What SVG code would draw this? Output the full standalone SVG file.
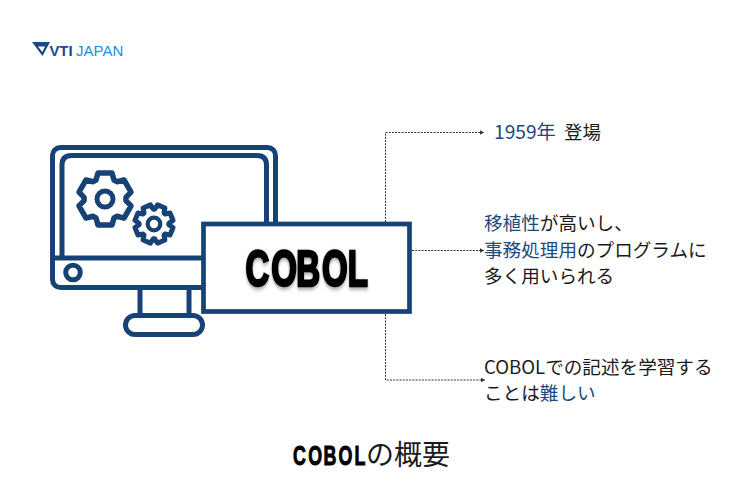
<svg xmlns="http://www.w3.org/2000/svg" width="750" height="500" viewBox="0 0 750 500">
<style>
.ln{fill:none;stroke:#164276;stroke-width:5;stroke-linejoin:round}
.t{font-family:"Noto Sans CJK JP","Noto Sans",sans-serif;font-size:18.600px;fill:#1a1a1a}
.b{fill:#1c4a80}
.c{fill:none;stroke:#333;stroke-width:1;stroke-dasharray:2 1.2}
.h{font-family:"Liberation Sans",sans-serif;font-weight:700;fill:#000;stroke:#000}
</style>
<defs>
<marker id="a" markerUnits="userSpaceOnUse" markerWidth="5" markerHeight="6" refX="4.5" refY="3" orient="auto"><path d="M0 0.5L4.5 3L0 5.5z" fill="#333"/></marker>
<path id="gear" d="M-9-19L-7-26H7L9-19L11.95-17.29L19.02-19.06L26.02-6.94L20.95-1.71V1.71L26.02 6.94L19.02 19.06L11.95 17.29L9 19L7 26H-7L-9 19L-11.95 17.29L-19.02 19.06L-26.02 6.94L-20.95 1.71V-1.71L-26.02-6.94L-19.02-19.06L-11.95-17.29Z"/>
<path id="gear2" d="M-5-14L-4-19H4L5-14L6.36-13.44L10.61-16.26L16.26-10.61L13.44-6.36L14-5L19-4V4L14 5L13.44 6.36L16.26 10.61L10.61 16.26L6.36 13.44L5 14L4 19H-4L-5 14L-6.36 13.44L-10.61 16.26L-16.26 10.61L-13.44 6.36L-14 5L-19 4V-4L-14-5L-13.44-6.36L-16.26-10.61L-10.61-16.26L-6.36-13.44Z"/>
<filter id="s" x="-10%" y="-20%" width="120%" height="150%"><feDropShadow dx="0" dy="2" stdDeviation="2" flood-color="#000" flood-opacity=".4"/></filter>
</defs>
<rect width="750" height="500" fill="#fff"/>
<g id="logo">
<path d="M32 42H50L42.500 56ZM38 46.500L42.300 52L45 46.500Z" fill="#164a8c" fill-rule="evenodd"/>
<text x="49.500" y="56" font-family="Liberation Sans,sans-serif" font-size="14.800" font-weight="700" fill="#164a8c">VTI</text>
<text x="76" y="56" font-family="Liberation Sans,sans-serif" font-size="15" fill="#1a8fe3">JAPAN</text>
</g>
<g id="monitor">
<rect class="ln" x="52.500" y="147.500" width="223" height="140" rx="8"/>
<path class="ln" d="M62 258V165Q62 155.500 71.500 155.500H257Q266.500 155.500 266.500 165V258"/>
<path class="ln" d="M52.500 258H266"/>
<circle class="ln" cx="73" cy="272.500" r="7.300"/>
<path class="ln" d="M140 288V315M189 288V315"/>
<rect class="ln" x="125.500" y="315.500" width="77" height="19" rx="9.500" fill="#fff"/>
<use href="#gear" class="ln" style="stroke-width:5.500" transform="translate(105 199)"/>
<circle class="ln" cx="105" cy="199" r="8"/>
<use href="#gear2" class="ln" style="stroke-width:5" transform="translate(154 224) rotate(22.500)"/>
<circle class="ln" cx="154" cy="224" r="6.300" style="stroke-width:4.200"/>
</g>
<g id="connectors">
<path class="c" d="M385.500 222V132.500H484" marker-end="url(#a)"/>
<path class="c" d="M412 250.500H484" marker-end="url(#a)"/>
<path class="c" d="M385.500 314V380H485" marker-end="url(#a)"/>
</g>
<g id="cobol">
<rect x="203.500" y="224" width="206" height="87.500" fill="#fff" stroke="#164276" stroke-width="4.700"/>
<text class="h" transform="translate(0 285.500) scale(.66 1)" x="372 411 449 488 527" y="0" font-size="50" stroke-width="2.500" filter="url(#s)">COBOL</text>
</g>
<g id="fact1"><text class="t b" x="494" y="139" style="font-size:19.200px;fill:#1c4a80">1959年</text><text class="t" x="564" y="139" style="font-size:18.500px">登場</text></g>
<g id="fact2"><text class="t" x="484" y="230"><tspan class="b">移植性</tspan>が高いし、</text>
<text class="t" x="484" y="257"><tspan class="b">事務処理用</tspan>のプログラムに</text>
<text class="t" x="484" y="283">多く用いられる</text></g>
<g id="fact3"><text class="t" x="484" y="374">COBOLでの記述を学習する</text>
<text class="t" x="484" y="400">ことは<tspan class="b">難しい</tspan></text></g>
<g id="title"><text class="h" transform="translate(0 464.500) scale(.66 1)" x="444 467 490 513 537" y="0" font-size="27" stroke-width="1">COBOL</text>
<text x="366" y="465" font-family="Noto Sans CJK JP,sans-serif" font-size="28" fill="#1a1a1a">の概要</text></g>
</svg>
